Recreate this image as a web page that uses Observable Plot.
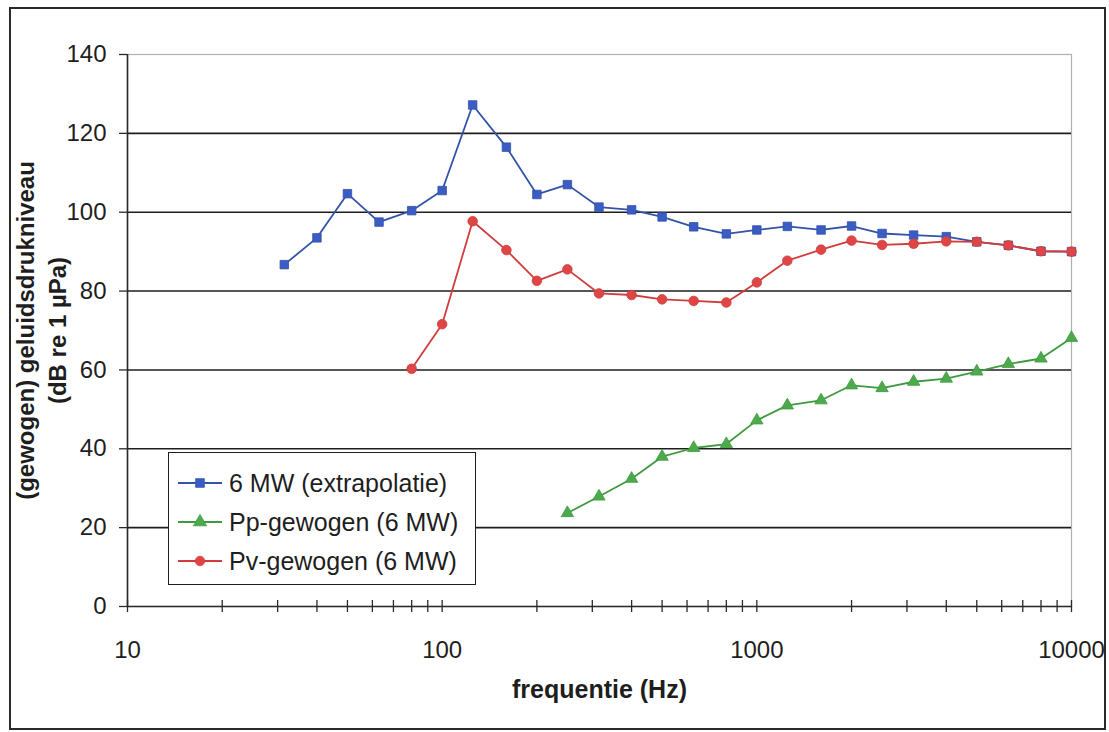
<!DOCTYPE html>
<html>
<head>
<meta charset="utf-8">
<script src="https://cdn.jsdelivr.net/npm/d3@7"></script>
<script src="https://cdn.jsdelivr.net/npm/@observablehq/plot@0.6"></script>
<style>
  html, body { margin: 0; padding: 0; background: #fff; }
  #wrap { position: relative; width: 1109px; height: 732px; overflow: hidden; font-family: "Liberation Sans", Arial, sans-serif; color: #1e1e1e; }
  #border { position: absolute; left: 9px; top: 7px; width: 1093px; height: 719px; border: 2px solid #2a2a2a; }
  #chart { position: absolute; left: 0; top: 0; }
  #legend { position: absolute; left: 168px; top: 452px; width: 306px; height: 131px; border: 1.5px solid #1e1e1e; background: #fff; }
  .row { position: absolute; left: 8px; height: 30px; display: flex; align-items: center; font-size: 25px; white-space: nowrap; }
  .row svg { margin-right: 6px; }
</style>
</head>
<body>
<div id="wrap">
  <div id="border"></div>
  <div id="chart"></div>
  <div id="legend"></div>
</div>
<script>
// third-octave band centre frequencies (Hz)
const freqs = [31.5, 40, 50, 63, 80, 100, 125, 160, 200, 250, 315, 400, 500, 630, 800, 1000, 1250, 1600, 2000, 2500, 3150, 4000, 5000, 6300, 8000, 10000];

// 6 MW (extrapolatie), from 31.5 Hz
const extrapolatie = [86.7, 93.5, 104.7, 97.5, 100.4, 105.5, 127.2, 116.5, 104.5, 107.0, 101.3, 100.6, 98.8, 96.3, 94.5, 95.5, 96.4, 95.5, 96.5, 94.6, 94.2, 93.8, 92.5, 91.6, 90.1, 90.0];
// Pp-gewogen (6 MW), from 250 Hz
const ppStart = 250;
const ppGewogen = [23.7, 27.9, 32.4, 38.0, 40.2, 41.2, 47.2, 51.0, 52.3, 56.1, 55.4, 57.0, 57.8, 59.6, 61.5, 62.9, 68.1];
// Pv-gewogen (6 MW), from 80 Hz
const pvStart = 80;
const pvGewogen = [60.3, 71.6, 97.7, 90.4, 82.6, 85.5, 79.4, 79.0, 77.9, 77.5, 77.1, 82.2, 87.7, 90.5, 92.8, 91.7, 92.0, 92.6, 92.5, 91.6, 90.1, 90.0];

const seriesNames = ["6 MW (extrapolatie)", "Pp-gewogen (6 MW)", "Pv-gewogen (6 MW)"];
const seriesColors = ["#3353a8", "#3f9a3f", "#d23c3c"];
const seriesFills = ["#3a5cc4", "#4caa4c", "#de4646"];
const seriesSymbols = ["square", "triangle", "circle"];

const yTicks = [0, 20, 40, 60, 80, 100, 120, 140];
const xMajor = [10, 100, 1000, 10000];
const xMinor = [20, 30, 40, 50, 60, 70, 80, 90, 200, 300, 400, 500, 600, 700, 800, 900, 2000, 3000, 4000, 5000, 6000, 7000, 8000, 9000];

const xLabel = "frequentie (Hz)";
const yLabel = "(gewogen) geluidsdrukniveau\n(dB re 1 µPa)";

function toRows(values, start, name) {
  const i0 = freqs.indexOf(start);
  return values.map((v, i) => ({ f: freqs[i0 + i], v, s: name }));
}
const rows = [
  toRows(extrapolatie, freqs[0], seriesNames[0]),
  toRows(ppGewogen, ppStart, seriesNames[1]),
  toRows(pvGewogen, pvStart, seriesNames[2])
];

const marks = [
  Plot.frame({ stroke: "#b0b0b0", strokeWidth: 1.2 }),
  Plot.ruleY(yTicks.filter(d => d > 0 && d < 140), { stroke: "#1e1e1e", strokeWidth: 1.6 }),
  Plot.ruleY([0], { stroke: "#2a2a2a", strokeWidth: 1.6 }),
  Plot.ruleX([10], { stroke: "#2a2a2a", strokeWidth: 1.6 }),
  // x tick marks crossing the axis
  Plot.ruleX([...xMajor, ...xMinor], { y1: 0, y2: 0, insetTop: -6, insetBottom: -6, stroke: "#2a2a2a", strokeWidth: 1.3 }),
  // x tick labels
  Plot.axisX({ ticks: xMajor, tickSize: 0, tickPadding: 34, tickFormat: d => String(d), fontSize: 24, fill: "#1e1e1e", label: null }),
  Plot.axisY({ ticks: yTicks, tickSize: 8, tickPadding: 13, fontSize: 24, fill: "#1e1e1e", stroke: "#2a2a2a", strokeWidth: 1.3, label: null }),
  Plot.text([xLabel], { frameAnchor: "bottom", dy: 91, fontSize: 25, fontWeight: "bold", fill: "#1e1e1e" }),
  Plot.text([yLabel], { frameAnchor: "left", dx: -88, rotate: -90, textAnchor: "middle", fontSize: 24, fontWeight: "bold", fill: "#1e1e1e", lineHeight: 1.35 })
];
rows.forEach((data, k) => {
  marks.push(Plot.line(data, { x: "f", y: "v", stroke: seriesColors[k], strokeWidth: 1.8 }));
  marks.push(Plot.dot(data, { x: "f", y: "v", symbol: seriesSymbols[k], r: k === 1 ? 4.6 : 4.8, fill: seriesFills[k], stroke: seriesColors[k], strokeWidth: 0.8 }));
});

const chart = Plot.plot({
  width: 1109,
  height: 732,
  marginLeft: 127,
  marginRight: 38,
  marginTop: 54,
  marginBottom: 126,
  style: { fontFamily: "'Liberation Sans', Arial, sans-serif", background: "transparent", color: "#1e1e1e" },
  x: { type: "log", domain: [10, 10000], axis: null, label: null },
  y: { domain: [0, 140], axis: null, label: null },
  marks
});
document.getElementById("chart").appendChild(chart);

// legend (inside the plot area, as in the original)
const legend = document.getElementById("legend");
[0, 1, 2].forEach((k, j) => {
  const row = document.createElement("div");
  row.className = "row";
  row.style.top = (15 + j * 39) + "px";
  const sym = d3.symbol(k === 0 ? d3.symbolSquare : k === 1 ? d3.symbolTriangle : d3.symbolCircle, k === 2 ? 70 : 75)();
  row.innerHTML = `<svg width="46" height="20"><line x1="1" x2="45" y1="10" y2="10" stroke="${seriesColors[k]}" stroke-width="1.8"/><path d="${sym}" transform="translate(23,10)" fill="${seriesFills[k]}" stroke="${seriesColors[k]}" stroke-width="0.8"/></svg><span>${seriesNames[k]}</span>`;
  legend.appendChild(row);
});
</script>
</body>
</html>
